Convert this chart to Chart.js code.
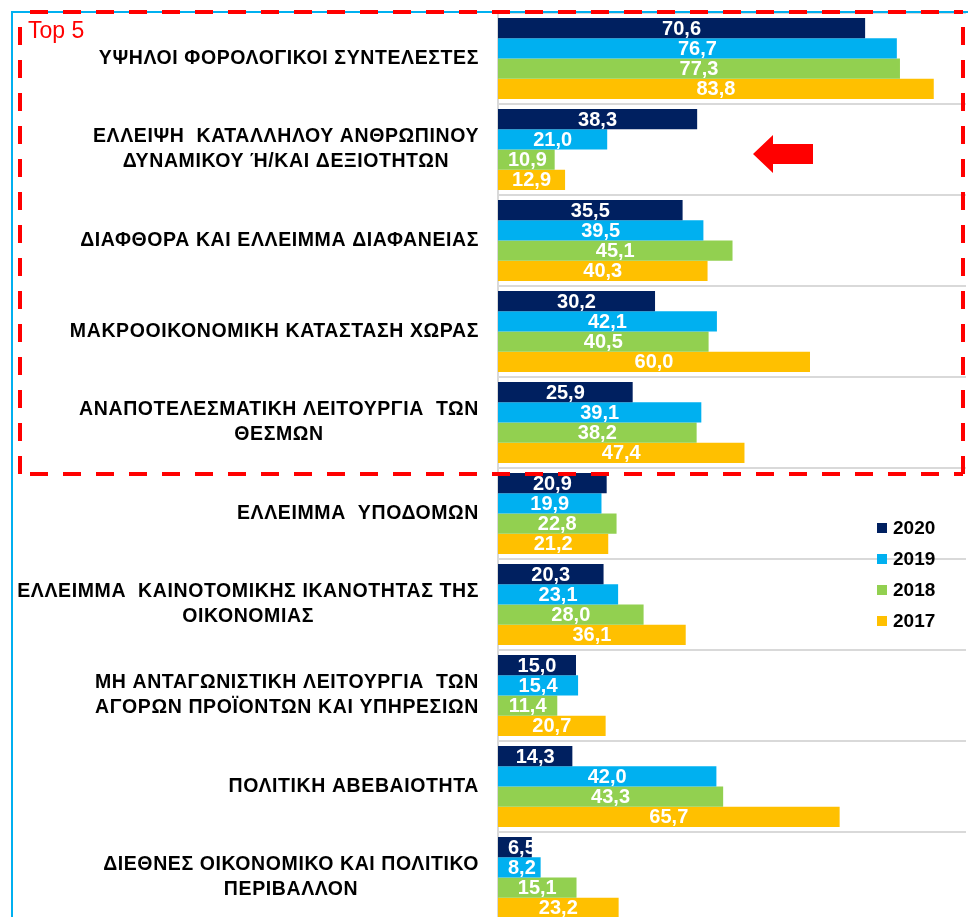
<!DOCTYPE html>
<html>
<head>
<meta charset="utf-8">
<script src="https://cdn.jsdelivr.net/npm/chart.js@4.4.1/dist/chart.umd.min.js"></script>
<style>
  html, body { margin: 0; padding: 0; background: #fff; overflow: hidden; }
  #wrap { width: 968px; height: 925px; }
</style>
</head>
<body>
<div id="wrap"><canvas id="barChart" width="968" height="925"></canvas></div>
<script>
// --- DATI ---
const categories = [
    ["ΥΨΗΛΟΙ ΦΟΡΟΛΟΓΙΚΟΙ ΣΥΝΤΕΛΕΣΤΕΣ"],
    ["ΕΛΛΕΙΨΗ  ΚΑΤΑΛΛΗΛΟΥ ΑΝΘΡΩΠΙΝΟΥ", "ΔΥΝΑΜΙΚΟΥ Ή/ΚΑΙ ΔΕΞΙΟΤΗΤΩΝ"],
    ["ΔΙΑΦΘΟΡΑ ΚΑΙ ΕΛΛΕΙΜΜΑ ΔΙΑΦΑΝΕΙΑΣ"],
    ["ΜΑΚΡΟΟΙΚΟΝΟΜΙΚΗ ΚΑΤΑΣΤΑΣΗ ΧΩΡΑΣ"],
    ["ΑΝΑΠΟΤΕΛΕΣΜΑΤΙΚΗ ΛΕΙΤΟΥΡΓΙΑ  ΤΩΝ", "ΘΕΣΜΩΝ"],
    ["ΕΛΛΕΙΜΜΑ  ΥΠΟΔΟΜΩΝ"],
    ["ΕΛΛΕΙΜΜΑ  ΚΑΙΝΟΤΟΜΙΚΗΣ ΙΚΑΝΟΤΗΤΑΣ ΤΗΣ", "ΟΙΚΟΝΟΜΙΑΣ"],
    ["ΜΗ ΑΝΤΑΓΩΝΙΣΤΙΚΗ ΛΕΙΤΟΥΡΓΙΑ  ΤΩΝ", "ΑΓΟΡΩΝ ΠΡΟΪΟΝΤΩΝ ΚΑΙ ΥΠΗΡΕΣΙΩΝ"],
    ["ΠΟΛΙΤΙΚΗ ΑΒΕΒΑΙΟΤΗΤΑ"],
    ["ΔΙΕΘΝΕΣ ΟΙΚΟΝΟΜΙΚΟ ΚΑΙ ΠΟΛΙΤΙΚΟ", "ΠΕΡΙΒΑΛΛΟΝ"]
];
const seriesNames = ["2020", "2019", "2018", "2017"];
const values2020 = [70.6, 38.3, 35.5, 30.2, 25.9, 20.9, 20.3, 15.0, 14.3, 6.5];
const values2019 = [76.7, 21.0, 39.5, 42.1, 39.1, 19.9, 23.1, 15.4, 42.0, 8.2];
const values2018 = [77.3, 10.9, 45.1, 40.5, 38.2, 22.8, 28.0, 11.4, 43.3, 15.1];
const values2017 = [83.8, 12.9, 40.3, 60.0, 47.4, 21.2, 36.1, 20.7, 65.7, 23.2];
const seriesColors = ['#002060', '#00B0F0', '#92D050', '#FFC000'];
const xMax = 90;

const FONT = "'Liberation Sans', Arial, sans-serif";
const fmt = v => v.toFixed(1).replace('.', ',');

// Etichette categorie a sinistra (righe centrate, blocco allineato a destra)
const categoryLabels = {
    id: 'categoryLabels',
    afterDraw(chart) {
        const ctx = chart.ctx;
        const y = chart.scales.y;
        ctx.save();
        ctx.font = "bold 19.5px " + FONT;
        ctx.letterSpacing = '0.6px';
        ctx.fillStyle = '#000';
        ctx.textAlign = 'center';
        ctx.textBaseline = 'middle';
        const rightEdge = 479, lineH = 25;
        categories.forEach((lines, i) => {
            const cy = y.getPixelForValue(i);
            const w = Math.max(...lines.map(l => ctx.measureText(l).width));
            const cx = rightEdge - w / 2;
            const y0 = cy - (lines.length - 1) * lineH / 2;
            lines.forEach((l, k) => ctx.fillText(l, cx, y0 + k * lineH));
        });
        ctx.restore();
    }
};

// Valori dentro le barre
const valueLabels = {
    id: 'valueLabels',
    afterDatasetsDraw(chart) {
        const ctx = chart.ctx;
        ctx.save();
        ctx.font = "bold 20px " + FONT;
        ctx.fillStyle = '#fff';
        ctx.textAlign = 'center';
        ctx.textBaseline = 'middle';
        chart.data.datasets.forEach((ds, di) => {
            chart.getDatasetMeta(di).data.forEach((bar, i) => {
                const txt = fmt(ds.data[i]);
                const w = ctx.measureText(txt).width;
                const cx = Math.max((bar.x + bar.base) / 2, bar.base + w / 2 + 10);
                ctx.fillText(txt, cx, bar.y + 1);
            });
        });
        ctx.restore();
    }
};

// Legenda, cornice, riquadro Top 5 e freccia
const decorations = {
    id: 'decorations',
    afterDraw(chart) {
        const ctx = chart.ctx;
        ctx.save();

        // legenda
        ctx.font = "bold 19px " + FONT;
        ctx.textBaseline = 'middle';
        ctx.textAlign = 'left';
        chart.data.datasets.forEach((ds, i) => {
            const ly = 528 + i * 31;
            ctx.fillStyle = ds.backgroundColor;
            ctx.fillRect(877, ly - 5, 10, 10);
            ctx.fillStyle = '#000';
            ctx.fillText(ds.label, 893, ly + 1);
        });

        // cornice azzurra
        ctx.strokeStyle = '#00B0F0';
        ctx.lineWidth = 2;
        ctx.beginPath();
        ctx.moveTo(12, 925);
        ctx.lineTo(12, 12);
        ctx.lineTo(968, 12);
        ctx.stroke();

        // riquadro tratteggiato rosso
        ctx.strokeStyle = '#FF0000';
        ctx.lineWidth = 4;
        ctx.setLineDash([18, 15]);
        ctx.lineDashOffset = -10;
        ctx.beginPath();
        ctx.moveTo(20, 12); ctx.lineTo(963, 12);
        ctx.stroke();
        ctx.beginPath();
        ctx.moveTo(20, 17); ctx.lineTo(20, 474);
        ctx.stroke();
        ctx.beginPath();
        ctx.moveTo(20, 474); ctx.lineTo(963, 474);
        ctx.stroke();
        ctx.beginPath();
        ctx.moveTo(963, 17); ctx.lineTo(963, 474);
        ctx.stroke();
        ctx.setLineDash([]);

        ctx.fillStyle = '#FF0000';
        ctx.font = "23px " + FONT;
        ctx.textBaseline = 'alphabetic';
        ctx.fillText('Top 5', 28, 38);

        // freccia
        ctx.beginPath();
        ctx.moveTo(753, 154);
        ctx.lineTo(773, 135);
        ctx.lineTo(773, 144);
        ctx.lineTo(813, 144);
        ctx.lineTo(813, 164);
        ctx.lineTo(773, 164);
        ctx.lineTo(773, 173);
        ctx.closePath();
        ctx.fill();

        ctx.restore();
    }
};

const seriesValues = [values2020, values2019, values2018, values2017];

new Chart(document.getElementById('barChart'), {
    type: 'bar',
    data: {
        labels: categories,
        datasets: seriesNames.map((name, i) => ({
            label: name,
            data: seriesValues[i],
            backgroundColor: seriesColors[i],
            borderWidth: 0,
            categoryPercentage: 0.89,
            barPercentage: 1.0
        }))
    },
    options: {
        indexAxis: 'y',
        responsive: false,
        animation: false,
        devicePixelRatio: 1,
        layout: { padding: { left: 498, top: 13, right: 2, bottom: 2 } },
        scales: {
            x: { display: false, min: 0, max: xMax },
            y: {
                ticks: { display: false },
                grid: { color: '#d9d9d9', lineWidth: 2, drawTicks: false, offset: true },
                border: { display: true, color: '#d9d9d9', width: 2 }
            }
        },
        plugins: {
            legend: { display: false },
            tooltip: { enabled: false }
        }
    },
    plugins: [categoryLabels, valueLabels, decorations]
});
</script>
</body>
</html>
